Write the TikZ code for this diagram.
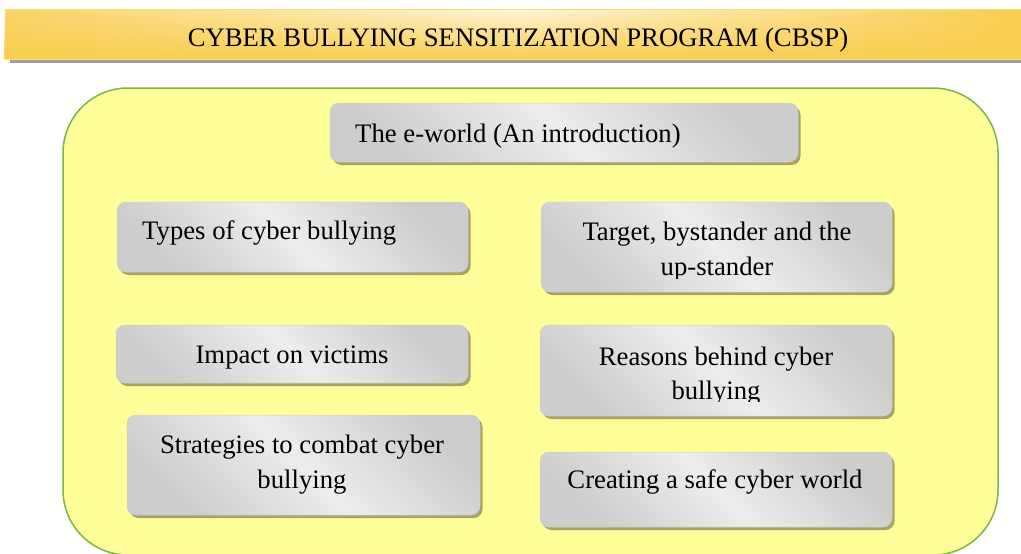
\documentclass[tikz,border=0pt]{standalone}
\usepackage{fontspec}
\setmainfont{Liberation Serif}
\usetikzlibrary{shadows,fadings}
\definecolor{panelfill}{HTML}{FFFF99}
\definecolor{panelline}{HTML}{7AB648}
\definecolor{goldedge}{HTML}{F9CD4E}
\definecolor{goldlight}{HTML}{FFF6D8}
\definecolor{khaki}{HTML}{A8A266}
\definecolor{boxdark}{HTML}{CDCDCD}
\definecolor{boxlight}{HTML}{EDEDED}

\begin{document}
\begin{tikzpicture}[x=1pt,y=-1pt,
  panel/.style={draw=panelline, line width=1.5pt, fill=panelfill,
    rounded corners=65pt, inner sep=0pt},
  banner/.style={draw=goldedge!70, line width=0.6pt,
    left color=goldedge!85, right color=goldedge, middle color=goldlight,
    inner sep=0pt,
    drop shadow={shadow xshift=5pt, shadow yshift=-4pt, fill=black!38, opacity=1}},
  topicbox/.style={rounded corners=9pt, draw=black!20, line width=0.5pt,
    top color=boxdark, bottom color=boxdark, middle color=boxlight,
    shading angle=-45, inner sep=0pt,
    drop shadow={shadow xshift=2.5pt, shadow yshift=-3pt, fill=khaki, opacity=1}},
  itemtext/.style={font=\fontsize{26.7}{35}\selectfont, inner sep=0pt, anchor=base},
]
\useasboundingbox (0,0) rectangle (1021,554);

% title banner
\node[banner, minimum width=1025pt, minimum height=50pt] (banner) at (517.5,34) {};
\fill[goldedge, path fading=north] (banner.south west) rectangle (banner.north east);
\node[itemtext] (title) at (518,46) {CYBER BULLYING SENSITIZATION PROGRAM (CBSP)};

% yellow panel holding the topics
\node[panel, minimum width=935pt, minimum height=467pt] (panel) at (530.5,321.5) {};

% topic boxes
\node[topicbox, minimum width=468pt, minimum height=59pt]  (eworld)     at (564,132.5) {};
\node[topicbox, minimum width=351pt, minimum height=70pt]  (types)      at (292.5,237) {};
\node[topicbox, minimum width=351pt, minimum height=90pt]  (target)     at (716.5,247) {};
\node[topicbox, minimum width=352pt, minimum height=58pt]  (impact)     at (292,354) {};
\node[topicbox, minimum width=352pt, minimum height=91pt]  (reasons)    at (716,370.5) {};
\node[topicbox, minimum width=353pt, minimum height=100pt] (strategies) at (303.5,465) {};
\node[topicbox, minimum width=352pt, minimum height=75pt]  (creating)   at (716,489.5) {};

% topic texts
\node[itemtext, anchor=base west] (eworldtxt) at (355,142) {The e-world (An introduction)};
\node[itemtext, anchor=base west] (typestxt) at (142,239) {Types of cyber bullying};
\node[itemtext] (targettxta) at (717,240) {Target, bystander and the};
\begin{scope}
  \clip (530,250) rectangle (900,278);
  \node[itemtext] (targettxtb) at (717,275) {up-stander};
\end{scope}
\node[itemtext] (impacttxt) at (292,363) {Impact on victims};
\node[itemtext] (reasonstxta) at (716,365) {Reasons behind cyber};
\begin{scope}
  \clip (530,370) rectangle (900,401);
  \node[itemtext] (reasonstxtb) at (716,399) {bullying};
\end{scope}
\node[itemtext] (strategiestxta) at (302,453) {Strategies to combat cyber};
\node[itemtext] (strategiestxtb) at (302,488) {bullying};
\node[itemtext] (creatingtxt) at (715,488) {Creating a safe cyber world};
\end{tikzpicture}
\end{document}
